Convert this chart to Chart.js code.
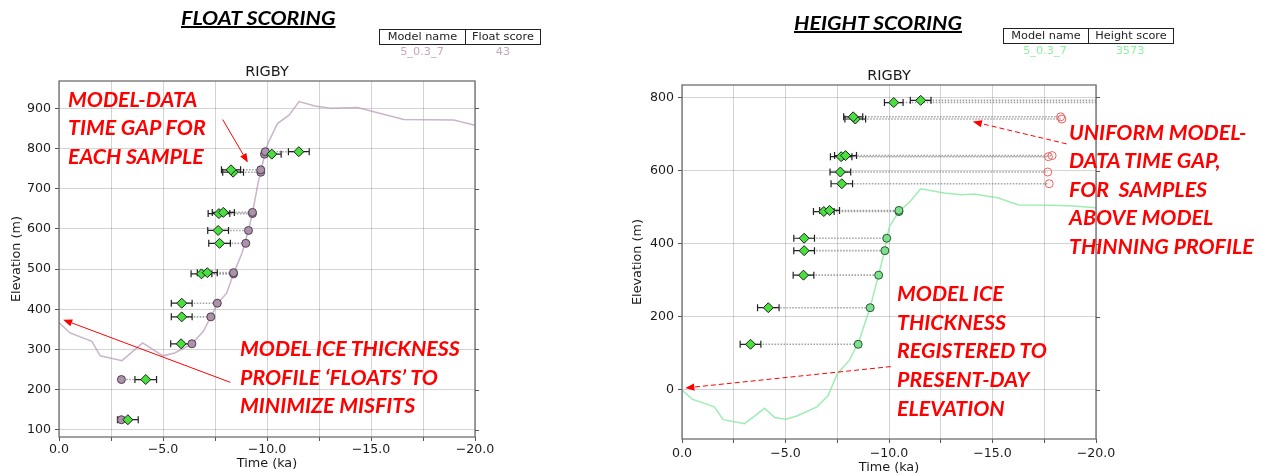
<!DOCTYPE html>
<html><head><meta charset="utf-8">
<script src="https://cdn.jsdelivr.net/npm/chart.js@4.4.1/dist/chart.umd.min.js"></script>
<style>
html,body{margin:0;padding:0;background:#fff;}
#root{position:relative;width:1261px;height:475px;overflow:hidden;background:#fff;font-family:"DejaVu Sans",sans-serif;}
canvas{position:absolute;top:0;}
.ttl{position:absolute;font-family:Lato,"Open Sans",sans-serif;font-weight:700;font-style:italic;font-size:19px;line-height:22.8px;text-decoration:underline;text-decoration-thickness:1.5px;color:#000;white-space:nowrap;transform-origin:0 0;}
.note{position:absolute;font-family:Lato,"Open Sans",sans-serif;font-weight:700;font-style:italic;color:#ff0000;font-size:21px;line-height:28.6px;white-space:pre;transform-origin:0 0;}
.tbl{position:absolute;display:flex;border:1.5px solid #222;box-sizing:border-box;height:16px;font-size:11.3px;color:#222;}
.tbl div{text-align:center;line-height:13px;box-sizing:border-box;}
.tbl div+div{border-left:1.5px solid #222;}
.val{position:absolute;font-size:11.3px;transform:translateX(-50%);white-space:nowrap;}
</style></head>
<body><div id="root">
<canvas id="cFloat" width="630" height="475" style="left:0;width:630px;height:475px"></canvas>
<canvas id="cHeight" width="631" height="475" style="left:630px;width:631px;height:475px"></canvas>

<div class="ttl" id="t1" style="left:181px;top:6.6px">FLOAT SCORING</div>
<div class="ttl" id="t2" style="left:794px;top:11.6px">HEIGHT SCORING</div>

<div class="tbl" style="left:379px;top:29px;width:162px"><div style="width:86px">Model name</div><div style="width:76px">Float score</div></div>
<div class="val" style="left:422px;top:45px;color:#c6a6c2">5_0.3_7</div>
<div class="val" style="left:503px;top:45px;color:#c6a6c2">43</div>

<div class="tbl" style="left:1003px;top:28px;width:171px"><div style="width:85px">Model name</div><div style="width:86px">Height score</div></div>
<div class="val" style="left:1045px;top:44px;color:#8ff0a0">5_0.3_7</div>
<div class="val" style="left:1130px;top:44px;color:#8ff0a0">3573</div>

<div class="note" style="left:68px;top:84.6px">MODEL-DATA
TIME GAP FOR
EACH SAMPLE</div>
<div class="note" style="left:240px;top:334.3px">MODEL ICE THICKNESS
PROFILE ‘FLOATS’ TO
MINIMIZE MISFITS</div>
<div class="note" style="left:1069px;top:117.6px">UNIFORM MODEL-
DATA TIME GAP,
FOR  SAMPLES
ABOVE MODEL
THINNING PROFILE</div>
<div class="note" style="left:897px;top:279.3px">MODEL ICE
THICKNESS
REGISTERED TO
PRESENT-DAY
ELEVATION</div>
</div>
<script>
// ---------------- data ----------------
// samples: age (ka, negative = before present), elevation (m), 1-sigma age error (ka)
const sampleAge  = [-3.31,-4.17,-5.87,-5.90,-5.90,-6.85,-7.13,-7.72,-7.65,-7.69,-7.90,-8.37,-8.27,-10.23,-11.53];
const sampleElev = [125, 225, 314, 381, 415, 488, 491, 564, 596, 638, 641, 741, 747, 786, 792];
const sampleErr  = [0.50,0.52,0.50,0.50,0.50,0.50,0.48,0.52,0.50,0.52,0.53,0.50,0.46,0.45,0.50];

// model time matched to each sample
const floatModelAge  = [-3.00,-3.00,-6.39,-7.30,-7.61,-8.39,-8.39,-8.98,-9.11,-9.30,-9.30,-9.70,-9.70,-9.88,-9.92];
const heightModelAge = [-8.51,-9.09,-9.50,-9.80,-9.89,-10.48,-10.48,-17.74,-17.67,-17.70,-17.88,-18.35,-18.29,-20.23,-21.53];

// model thinning profile, floated (left) and registered to present-day elevation (right)
const floatProfileAge  = [0,-0.53,-1.58,-1.98,-3.03,-4.02,-5.0,-5.56,-6.39,-6.94,-7.63,-8.06,-8.39,-8.8,-9.11,-9.3,-9.57,-9.7,-9.9,-10.04,-10.5,-11.06,-11.54,-12.3,-13.06,-14.35,-15.46,-16.57,-18.98,-20];
const floatProfileElev = [367,341,320,284,272,316,284,291,314,345,415,440,488,540,597,639,714,743,787,812,862,883,917,906,900,902,887,872,871,858];
const heightProfileAge  = [0,-0.49,-1.56,-1.99,-3.02,-3.99,-4.47,-5.02,-5.55,-6.52,-7.05,-7.5,-8.08,-8.51,-9.09,-9.5,-9.8,-9.89,-10.03,-10.48,-11.0,-11.53,-12.66,-13.53,-14.12,-15.29,-16.26,-17.92,-18.89,-20];
const heightProfileElev = [0,-25,-46,-81,-92,-50,-75,-80,-71,-46,-16,44,81,127,226,315,383,416,448,488,514,550,539,534,536,525,506,505,503,498];

// annotation arrows, in data units [age, elevation]
const floatArrows  = [[[-7.87,872],[-9.08,765]], [[-8.24,218],[-0.2,374]]];
const heightArrows = [[[-18.58,673],[-14.05,734]], [[-10.09,64],[-0.16,5.5]]];

// axes
const timeTickValues = [0,-2.5,-5,-7.5,-10,-12.5,-15,-17.5,-20];
const timeTickLabels = ['0.0','','\u22125.0','','\u221210.0','','\u221215.0','','\u221220.0'];
const floatElevTicks  = [100,200,300,400,500,600,700,800,900];
const heightElevTicks = [0,200,400,600,800];
const floatElevRange  = [82, 968];
const heightElevRange = [-134, 834];
const timeRange = [-20, 0];

// ---------------- drawing ----------------
Chart.defaults.font.family = 'DejaVu Sans';
Chart.defaults.color = '#1a1a1a';

function drawArrow(ctx, x1, y1, x2, y2, dash) {
  const ang = Math.atan2(y2 - y1, x2 - x1), L = 9, W = 3.6;
  const bx = x2 - L * Math.cos(ang), by = y2 - L * Math.sin(ang);
  ctx.strokeStyle = '#ff0000'; ctx.fillStyle = '#ff0000'; ctx.lineWidth = 1;
  ctx.setLineDash(dash);
  ctx.beginPath(); ctx.moveTo(x1, y1); ctx.lineTo(bx, by); ctx.stroke();
  ctx.setLineDash([]);
  ctx.beginPath(); ctx.moveTo(x2, y2);
  ctx.lineTo(bx - W * Math.sin(ang), by + W * Math.cos(ang));
  ctx.lineTo(bx + W * Math.sin(ang), by - W * Math.cos(ang));
  ctx.closePath(); ctx.fill();
}

function overlay(o) {
  return {
    id: 'overlay',
    beforeDatasetsDraw(chart) {
      const {ctx, chartArea: a, scales: {x, y}} = chart;
      ctx.save();
      ctx.beginPath(); ctx.rect(a.left, a.top, a.right - a.left, a.bottom - a.top); ctx.clip();
      ctx.setLineDash([1.5, 1.5]); ctx.lineWidth = 1.6; ctx.strokeStyle = 'rgba(110,110,110,0.65)';
      sampleAge.forEach((t, i) => {
        const yy = y.getPixelForValue(sampleElev[i]);
        ctx.beginPath(); ctx.moveTo(x.getPixelForValue(t), yy); ctx.lineTo(x.getPixelForValue(o.modelAge[i]), yy); ctx.stroke();
      });
      ctx.setLineDash([]);
      ctx.strokeStyle = '#222'; ctx.lineWidth = 1.2;
      sampleAge.forEach((t, i) => {
        const yy = y.getPixelForValue(sampleElev[i]);
        const x1 = x.getPixelForValue(t + sampleErr[i]), x2 = x.getPixelForValue(t - sampleErr[i]);
        ctx.beginPath();
        ctx.moveTo(x1, yy); ctx.lineTo(x2, yy);
        ctx.moveTo(x1, yy - 3.5); ctx.lineTo(x1, yy + 3.5);
        ctx.moveTo(x2, yy - 3.5); ctx.lineTo(x2, yy + 3.5);
        ctx.stroke();
      });
      ctx.restore();
    },
    afterDraw(chart) {
      const {ctx, chartArea: a, scales: {x, y}} = chart;
      ctx.save();
      ctx.strokeStyle = '#6e6e6e'; ctx.lineWidth = 1.3;
      ctx.strokeRect(a.left, a.top, a.right - a.left, a.bottom - a.top);
      ctx.strokeStyle = '#555'; ctx.lineWidth = 1;
      o.yTicks.forEach(v => {
        const yy = Math.round(y.getPixelForValue(v)) + 0.5;
        ctx.beginPath(); ctx.moveTo(a.right, yy); ctx.lineTo(a.right + 4, yy); ctx.stroke();
      });
      o.arrows.forEach(([p, q]) => drawArrow(ctx, x.getPixelForValue(p[0]), y.getPixelForValue(p[1]),
                                            x.getPixelForValue(q[0]), y.getPixelForValue(q[1]), o.arrowDash));
      ctx.restore();
    }
  };
}

function makeChart(id, o) {
  return new Chart(document.getElementById(id), {
    type: 'scatter',
    data: { datasets: [
      { data: sampleAge.map((a, i) => ({x: a, y: sampleElev[i]})),
        pointStyle: 'rectRot', pointRadius: 5, pointBackgroundColor: '#47e03d',
        pointBorderColor: '#1e1e1e', pointBorderWidth: 1 },
      { data: o.modelAge.map((a, i) => ({x: a, y: sampleElev[i]})),
        pointStyle: 'circle', pointRadius: 4, clip: 0,
        pointBackgroundColor: c => o.circleFill(c.dataIndex),
        pointBorderColor: c => o.circleEdge(c.dataIndex), pointBorderWidth: 1 },
      { data: o.profAge.map((a, i) => ({x: a, y: o.profElev[i]})),
        showLine: true, pointRadius: 0, borderColor: o.lineColor, borderWidth: 1.5, tension: 0, clip: 0 }
    ]},
    options: {
      responsive: false, animation: false, events: [],
      layout: { padding: { left: 0, top: 0, right: o.padRight, bottom: 0 } },
      plugins: {
        legend: { display: false }, tooltip: { enabled: false },
        title: { display: true, fullSize: false, text: 'RIGBY', color: '#1a1a1a',
                 font: { size: 14.5, weight: 'normal' }, padding: { top: o.titleTop, bottom: 0 } }
      },
      scales: {
        x: { type: 'linear', min: timeRange[0], max: timeRange[1], reverse: true,
             afterBuildTicks: s => { s.ticks = timeTickValues.map(v => ({value: v})); },
             afterFit: s => { s.height = o.xAxisH; },
             ticks: { callback: v => { const k = timeTickValues.indexOf(v); return k < 0 ? '' : timeTickLabels[k]; },
                      font: { size: 12.6 }, color: '#1a1a1a', padding: o.xTickPad, maxRotation: 0, autoSkip: false },
             grid: { color: 'rgba(0,0,0,0.17)', lineWidth: 1, tickLength: 4, tickColor: '#555', tickWidth: 1 },
             border: { display: false },
             title: { display: true, text: 'Time (ka)', font: { size: 12.8 }, color: '#1a1a1a',
                      padding: { top: 0, bottom: o.xTitlePad } } },
        y: { type: 'linear', min: o.yRange[0], max: o.yRange[1],
             afterBuildTicks: s => { s.ticks = o.yTicks.map(v => ({value: v})); },
             afterFit: s => { s.width = o.yAxisW; },
             ticks: { font: { size: 12.6 }, color: '#1a1a1a', padding: 4, autoSkip: false },
             grid: { color: 'rgba(0,0,0,0.17)', lineWidth: 1, tickLength: 4, tickColor: '#555', tickWidth: 1 },
             border: { display: false },
             title: { display: true, text: 'Elevation (m)', font: { size: 12.8 }, color: '#1a1a1a',
                      padding: { top: o.yTitlePad, bottom: 0 } } }
      }
    },
    plugins: [overlay(o)]
  });
}

makeChart('cFloat', {
  modelAge: floatModelAge, profAge: floatProfileAge, profElev: floatProfileElev,
  yTicks: floatElevTicks, yRange: floatElevRange, arrows: floatArrows, arrowDash: [],
  circleFill: () => 'rgb(172,146,170)', circleEdge: () => 'rgb(80,62,80)',
  lineColor: 'rgba(180,148,178,0.7)',
  padRight: 155, titleTop: 63.6, xAxisH: 38, yAxisW: 59, xTitlePad: 3.3, yTitlePad: 8.8, xTickPad: 1
});
makeChart('cHeight', {
  modelAge: heightModelAge, profAge: heightProfileAge, profElev: heightProfileElev,
  yTicks: heightElevTicks, yRange: heightElevRange, arrows: heightArrows, arrowDash: [5, 3],
  circleFill: i => heightModelAge[i] < -15 ? 'rgba(0,0,0,0)' : 'rgb(125,224,140)',
  circleEdge: i => heightModelAge[i] < -15 ? 'rgb(240,95,95)' : 'rgb(40,85,50)',
  lineColor: 'rgba(120,230,145,0.7)',
  padRight: 165, titleTop: 67.6, xAxisH: 36, yAxisW: 52, xTitlePad: 0, yTitlePad: 0.3, xTickPad: 3
});

// fit the annotation / heading fonts to the reference text widths
(function () {
  const mc = document.createElement('canvas').getContext('2d');
  mc.font = 'italic 700 21px Lato';
  const k = 221 / mc.measureText('MODEL ICE THICKNESS').width;
  document.querySelectorAll('.note').forEach(d => { d.style.transform = 'scaleX(' + k + ')'; });
  mc.font = 'italic 700 19px Lato';
  const k2 = 155 / mc.measureText('FLOAT SCORING').width;
  document.querySelectorAll('.ttl').forEach(d => { d.style.transform = 'scaleX(' + k2 + ')'; });
})();
</script>
</body></html>
